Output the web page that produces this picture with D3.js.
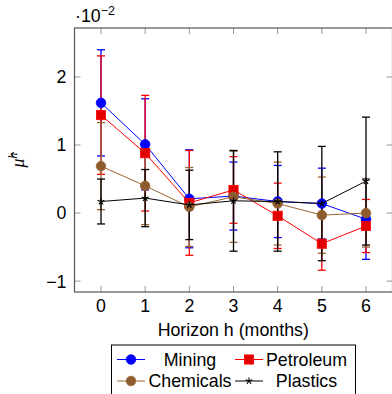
<!DOCTYPE html>
<html>
<head>
<meta charset="utf-8">
<script src="https://cdn.jsdelivr.net/npm/d3@7"></script>
<style>
  html, body { margin: 0; padding: 0; background: #fff; }
  svg { display: block; font-family: 'Liberation Sans', Arial, sans-serif; }
</style>
</head>
<body>
<div id="chart"></div>
<script>
// values in units of 1e-2
const horizons = [0, 1, 2, 3, 4, 5, 6];
const xTicks = [0, 1, 2, 3, 4, 5, 6];
const yTicks = [-1, 0, 1, 2];

const miningVals = [1.62, 1.01, 0.21, 0.25, 0.17, 0.14, -0.09];
const miningErr = [0.78, 0.67, 0.72, 0.50, 0.53, 0.52, 0.59];
const petroleumVals = [1.44, 0.88, 0.15, 0.34, -0.04, -0.45, -0.19];
const petroleumErr = [0.87, 0.85, 0.77, 0.49, 0.48, 0.39, 0.39];
const chemicalsVals = [0.69, 0.40, 0.09, 0.24, 0.14, -0.03, 0.00];
const chemicalsErr = [0.64, 0.57, 0.58, 0.67, 0.61, 0.56, 0.50];
const plasticsVals = [0.17, 0.22, 0.12, 0.18, 0.17, 0.14, 0.47];
const plasticsErr = [0.33, 0.42, 0.51, 0.74, 0.73, 0.84, 0.94];

const series = [
  { name: 'Mining', vals: miningVals, err: miningErr, color: '#0000ff', fill: '#0000ff', mark: 'circle' },
  { name: 'Petroleum', vals: petroleumVals, err: petroleumErr, color: '#ff0000', fill: '#e00000', mark: 'square' },
  { name: 'Chemicals', vals: chemicalsVals, err: chemicalsErr, color: '#996633', fill: '#8c5c2e', mark: 'circle' },
  { name: 'Plastics', vals: plasticsVals, err: plasticsErr, color: '#000000', fill: '#000000', mark: 'star' }
];

const W = 392, H = 394;
const FS = 17.8;

const svg = d3.select('#chart').append('svg')
  .attr('width', W)
  .attr('height', H);

const x = d3.scaleLinear().domain([-0.6, 6.6]).range([74.5, 392.5]);
const y = d3.scaleLinear().domain([-1.16, 2.72]).range([292, 28]);

const plot = svg.append('g');

// error bars
series.forEach(s => {
  const g = plot.append('g').attr('stroke', s.color).attr('stroke-width', 1.3);
  horizons.forEach((h, i) => {
    const cx = x(h);
    const y1 = y(s.vals[i] + s.err[i]);
    const y2 = y(s.vals[i] - s.err[i]);
    g.append('line').attr('x1', cx).attr('x2', cx).attr('y1', y1).attr('y2', y2);
    g.append('line').attr('x1', cx - 4).attr('x2', cx + 4).attr('y1', y1).attr('y2', y1);
    g.append('line').attr('x1', cx - 4).attr('x2', cx + 4).attr('y1', y2).attr('y2', y2);
  });
});

function drawMark(g, s, cx, cy) {
  if (s.mark === 'circle') {
    g.append('circle').attr('cx', cx).attr('cy', cy).attr('r', 4.8)
      .attr('fill', s.fill).attr('stroke', s.color).attr('stroke-width', 0.8);
  } else if (s.mark === 'square') {
    g.append('rect').attr('x', cx - 4.6).attr('y', cy - 4.6).attr('width', 9.2).attr('height', 9.2)
      .attr('fill', s.fill).attr('stroke', s.color).attr('stroke-width', 0.8);
  } else {
    const r = 3.6;
    let d = '';
    for (let k = 0; k < 5; k++) {
      const a = -Math.PI / 2 + k * 2 * Math.PI / 5;
      d += `M${cx},${cy}L${cx + r * Math.cos(a)},${cy + r * Math.sin(a)}`;
    }
    g.append('path').attr('d', d).attr('stroke', s.color).attr('stroke-width', 1.1).attr('fill', 'none');
  }
}

const line = d3.line().x(d => x(d[0])).y(d => y(d[1]));

series.forEach(s => {
  const g = plot.append('g');
  g.append('path')
    .datum(horizons.map((h, i) => [h, s.vals[i]]))
    .attr('d', line)
    .attr('fill', 'none')
    .attr('stroke', s.color)
    .attr('stroke-width', 1);
  horizons.forEach((h, i) => drawMark(g, s, x(h), y(s.vals[i])));
});

// axes frame
const axisColor = '#555';
const tickColor = '#999';
const x0 = x.range()[0], x1 = x.range()[1], y0 = y.range()[0], y1 = y.range()[1];

const ticks = svg.append('g').attr('stroke', tickColor).attr('stroke-width', 1);
xTicks.forEach(t => {
  ticks.append('line').attr('x1', x(t)).attr('x2', x(t)).attr('y1', y0).attr('y2', y0 - 6);
  ticks.append('line').attr('x1', x(t)).attr('x2', x(t)).attr('y1', y1).attr('y2', y1 + 6);
});
yTicks.forEach(t => {
  ticks.append('line').attr('x1', x0).attr('x2', x0 + 6).attr('y1', y(t)).attr('y2', y(t));
  ticks.append('line').attr('x1', x1).attr('x2', x1 - 6).attr('y1', y(t)).attr('y2', y(t));
});

svg.append('rect')
  .attr('x', x0).attr('y', y1)
  .attr('width', x1 - x0).attr('height', y0 - y1)
  .attr('fill', 'none').attr('stroke', axisColor).attr('stroke-width', 1.2);

// tick labels
svg.append('g').selectAll('text').data(xTicks).join('text')
  .attr('x', d => x(d)).attr('y', 312)
  .attr('text-anchor', 'middle')
  .attr('font-size', FS)
  .text(d => d);

svg.append('g').selectAll('text').data(yTicks).join('text')
  .attr('x', 66.5).attr('y', d => y(d))
  .attr('dy', '0.36em')
  .attr('text-anchor', 'end')
  .attr('font-size', FS)
  .text(d => d < 0 ? '\u2212' + Math.abs(d) : d);

// scale multiplier
const mult = svg.append('text').attr('x', 75).attr('y', 21.5).attr('font-size', FS);
mult.append('tspan').text('\u00b710');
mult.append('tspan').attr('font-size', 12.5).attr('dy', -7).text('\u22122');

// axis labels
svg.append('text')
  .attr('x', (x0 + 392) / 2).attr('y', 336)
  .attr('text-anchor', 'middle')
  .attr('font-size', FS)
  .text('Horizon h (months)');

const yl = svg.append('text')
  .attr('transform', `translate(24,${(y0 + y1) / 2}) rotate(-90)`)
  .attr('text-anchor', 'middle')
  .attr('font-size', FS)
  .attr('font-family', "'Liberation Serif', serif")
  .attr('font-style', 'italic');
yl.append('tspan').text('\u03bc\u0302');
yl.append('tspan').attr('font-size', 12.5).attr('dy', -7).text('h');

// legend
const legend = svg.append('g');
legend.append('rect')
  .attr('x', 111.5).attr('y', 345)
  .attr('width', 244).attr('height', 60)
  .attr('fill', '#fff').attr('stroke', '#000').attr('stroke-width', 1);

const legendPos = [
  { lx: 117, tx: 190, ly: 359.5 },
  { lx: 235, tx: 306.5, ly: 359.5 },
  { lx: 117, tx: 190, ly: 381 },
  { lx: 235, tx: 306.5, ly: 381 }
];

series.forEach((s, i) => {
  const p = legendPos[i];
  const g = legend.append('g');
  g.append('line')
    .attr('x1', p.lx).attr('x2', p.lx + 28)
    .attr('y1', p.ly).attr('y2', p.ly)
    .attr('stroke', s.color).attr('stroke-width', 1);
  drawMark(g, s, p.lx + 14, p.ly);
  g.append('text')
    .attr('x', p.tx).attr('y', p.ly)
    .attr('dy', '0.36em')
    .attr('text-anchor', 'middle')
    .attr('font-size', FS)
    .text(s.name);
});
</script>
</body>
</html>
